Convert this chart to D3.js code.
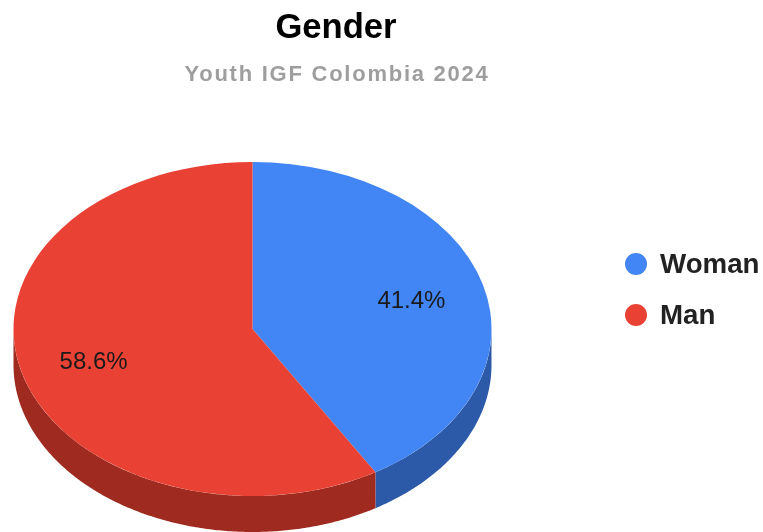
<!DOCTYPE html>
<html>
<head>
  <meta charset="utf-8">
  <title>Gender</title>
  <script src="https://cdn.jsdelivr.net/npm/d3@7"></script>
  <style>
    html, body { margin: 0; padding: 0; background: #fff; }
    svg { display: block; filter: blur(0.5px); }
    text { font-family: "Liberation Sans", Arial, sans-serif; }
    .title { font-size: 34.6px; font-weight: bold; fill: #000; text-anchor: middle; }
    .subtitle { font-size: 22px; font-weight: bold; fill: #9e9e9e; text-anchor: middle; letter-spacing: 1.75px; }
    .label { font-size: 24px; fill: #1a1a1a; text-anchor: middle; }
    .legend text { font-size: 27.7px; font-weight: bold; fill: #222; }
  </style>
</head>
<body>
  <script>
    // Chart data
    var categories = ["Woman", "Man"];
    var values = [41.4, 58.6];
    var topColors = ["#4285f4", "#e94235"];
    var sideColors = ["#2c5aa8", "#9f2b20"];

    var width = 763;
    var height = 532;
    var cx = 252.5;
    var cy = 329;
    var rx = 239;
    var ry = 167;
    var depth = 36;

    var svg = d3.select("body").append("svg")
      .attr("width", width)
      .attr("height", height);

    // Titles
    svg.append("text").attr("class", "title")
      .attr("x", 336).attr("y", 38).text("Gender");
    svg.append("text").attr("class", "subtitle")
      .attr("x", 337).attr("y", 81).text("Youth IGF Colombia 2024");

    // Pie angles, clockwise from 12 o'clock
    var pie = d3.pie().sort(null);
    var slices = pie(values);

    function ellipseX(a) { return cx + rx * Math.sin(a); }
    function ellipseY(a) { return cy - ry * Math.cos(a); }

    // Side wall: only the part of each slice on the lower half is visible
    var wallLine = d3.line().x(function(d) { return d[0]; }).y(function(d) { return d[1]; });
    slices.forEach(function(s, i) {
      var a0 = Math.max(s.startAngle, Math.PI / 2);
      var a1 = Math.min(s.endAngle, Math.PI * 1.5);
      if (a1 <= a0) return;
      var angles = d3.range(a0, a1, 0.01).concat([a1]);
      var front = angles.map(function(a) { return [ellipseX(a), ellipseY(a)]; });
      var back = angles.slice().reverse().map(function(a) { return [ellipseX(a), ellipseY(a) + depth]; });
      svg.append("path")
        .attr("d", wallLine(front.concat(back)) + "Z")
        .attr("fill", sideColors[i]);
    });

    // Top face: circle arcs squashed into the ellipse
    var arc = d3.arc().innerRadius(0).outerRadius(rx);
    svg.append("g")
      .attr("transform", "translate(" + cx + "," + cy + ") scale(1," + (ry / rx) + ")")
      .selectAll("path")
      .data(slices)
      .enter()
      .append("path")
      .attr("d", arc)
      .attr("fill", function(d, i) { return topColors[i]; });

    // Percent labels
    var labelRadius = 0.69;
    svg.selectAll(".label")
      .data(slices)
      .enter()
      .append("text")
      .attr("class", "label")
      .attr("x", function(d) {
        var c = arc.centroid(d);
        return cx + c[0] / (rx / 2) * rx * labelRadius;
      })
      .attr("y", function(d) {
        var c = arc.centroid(d);
        return cy + c[1] / (rx / 2) * ry * labelRadius + 9.5;
      })
      .text(function(d) { return d.value.toFixed(1) + "%"; });

    // Legend
    var legendY = d3.scalePoint().domain(categories).range([264, 315]);
    var legend = svg.append("g").attr("class", "legend")
      .selectAll("g")
      .data(categories)
      .enter()
      .append("g")
      .attr("transform", function(d) { return "translate(636," + legendY(d) + ")"; });
    legend.append("circle").attr("r", 11)
      .attr("fill", function(d, i) { return topColors[i]; });
    legend.append("text").attr("x", 24).attr("y", 9)
      .text(function(d) { return d; });
  </script>
</body>
</html>
